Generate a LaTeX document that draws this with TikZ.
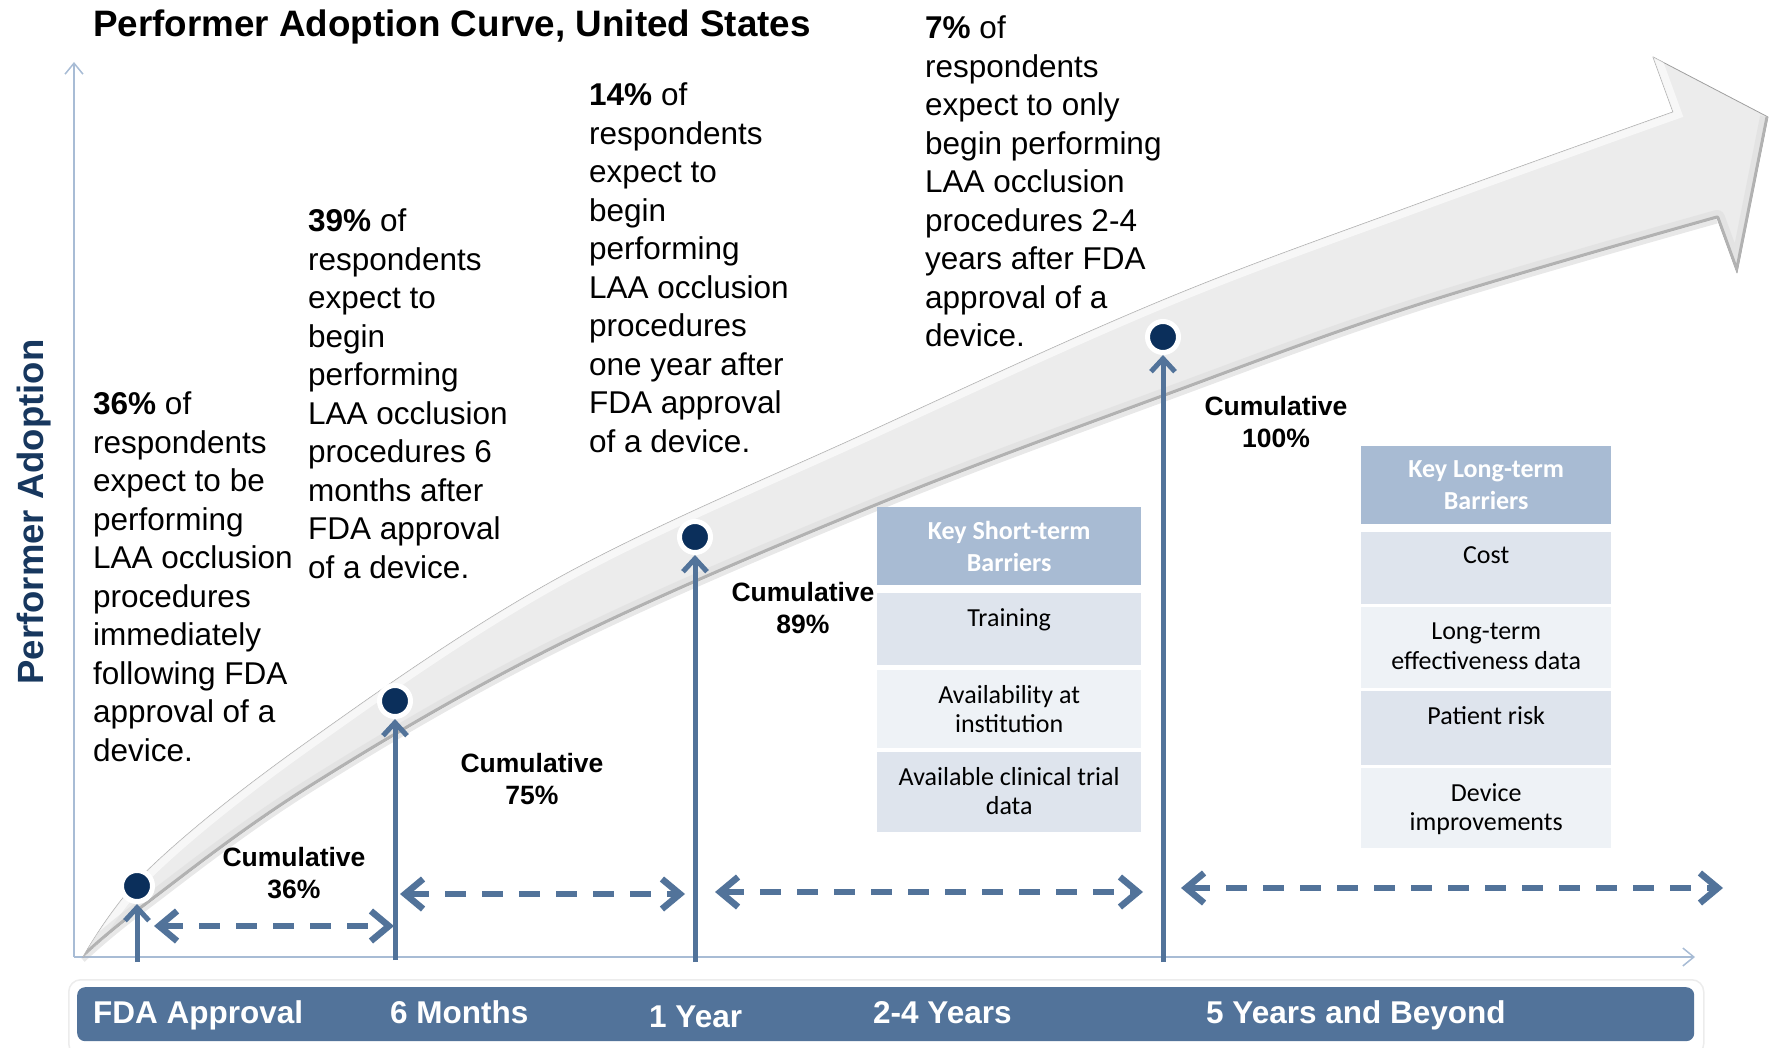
\documentclass[tikz,border=0pt]{standalone}
\usepackage{fontspec}
\setmainfont{Liberation Sans}
\newfontfamily\tablefont{Carlito}
\usetikzlibrary{arrows.meta}
\definecolor{steel}{HTML}{52739A}
\definecolor{navy}{HTML}{0B2F5B}
\definecolor{axisblue}{HTML}{A8BCD5}
\definecolor{hdrblue}{HTML}{A8BBD3}
\definecolor{rowdark}{HTML}{DEE4ED}
\definecolor{rowlight}{HTML}{EEF2F6}
\definecolor{ylabcol}{HTML}{17375E}
\definecolor{bandfill}{HTML}{ECECEC}
\begin{document}
\begin{tikzpicture}[x=1pt,y=-1pt,
  body/.style={anchor=north west, inner sep=0, align=left, font=\fontsize{31.5}{38.5}\selectfont},
  cumul/.style={align=center, inner sep=0, font=\bfseries\fontsize{26.5}{32}\selectfont},
  ticklabel/.style={anchor=base west, inner sep=0, text=white, font=\bfseries\fontsize{31.5}{38}\selectfont},
  dot/.style={circle, fill=navy, draw=white, line width=5pt, minimum size=31pt, inner sep=0},
  riser/.style={draw=steel, line width=5pt, -{Straight Barb[length=13pt,width=24pt]}},
  span/.style={draw=steel, line width=6.5pt, dash pattern=on 21pt off 16pt,
    {Straight Barb[length=18pt,width=30pt]}-{Straight Barb[length=18pt,width=30pt]}},
  axisline/.style={draw=axisblue, line width=1.5pt, -{Straight Barb[length=11pt,width=18pt]}},
  hdr/.style={rectangle, fill=hdrblue, inner sep=0, anchor=north west, align=center,
    text=white, font=\tablefont\bfseries\fontsize{26}{32}\selectfont},
  cell/.style={rectangle, inner sep=0, anchor=north west},
  celltext/.style={anchor=north, inner sep=0, align=center, font=\tablefont\fontsize{26}{29.5}\selectfont},
]
\useasboundingbox (0,0) rectangle (1775,1048);

% axes
\coordinate (origin) at (74,957);
\coordinate (ytop) at (74,62);
\coordinate (xend) at (1695,957);
\draw[axisline] (origin) -- (ytop);
\draw[axisline] (origin) -- (xend);

% soft shadow under the lower edge of the curved arrow
\draw[gray!60, line width=5pt, opacity=.3, yshift=-3pt, line join=round]
  plot[smooth, tension=0.6] coordinates {(1717,218) (1420,305) (1173,393) (873,507) (560,645) (310,787) (143,907) (83,957)};

% curved arrow body
\path[fill=bandfill, draw=gray!75, line width=0.8pt, line join=round]
  plot[smooth, tension=0.6] coordinates {(83,957) (150,868) (310,740) (560,577) (873,430) (1163,300) (1420,203) (1673,112)}
  -- (1653,57) -- (1768,117) -- (1737,273) -- (1717,218)
  -- plot[smooth, tension=0.6] coordinates {(1717,218) (1420,305) (1173,393) (873,507) (560,645) (310,787) (143,907) (83,957)}
  -- cycle;
\begin{scope}
  \clip plot[smooth, tension=0.6] coordinates {(83,957) (150,868) (310,740) (560,577) (873,430) (1163,300) (1420,203) (1673,112)}
  -- (1653,57) -- (1768,117) -- (1737,273) -- (1717,218)
  -- plot[smooth, tension=0.6] coordinates {(1717,218) (1420,305) (1173,393) (873,507) (560,645) (310,787) (143,907) (83,957)}
  -- cycle;
  \draw[white, line width=16pt, opacity=.6]
    plot[smooth, tension=0.6] coordinates {(83,957) (150,868) (310,740) (560,577) (873,430) (1163,300) (1420,203) (1673,112)} -- (1653,57);
  \draw[gray!30, line width=16pt, opacity=.45, line join=round]
    (1768,117) -- (1737,273) -- (1717,218)
    -- plot[smooth, tension=0.6] coordinates {(1717,218) (1420,305) (1173,393) (873,507) (560,645) (310,787) (143,907) (83,957)};
  \draw[gray!60, line width=5pt, line join=round]
    (1768,117) -- (1737,273) -- (1717,218)
    -- plot[smooth, tension=0.6] coordinates {(1717,218) (1420,305) (1173,393) (873,507) (560,645) (310,787) (143,907) (83,957)};
\end{scope}

% title and axis label
\node[anchor=base west, inner sep=0, font=\bfseries\fontsize{36.8}{40}\selectfont] (title) at (93,37)
  {Performer Adoption Curve, United States};
\node[rotate=90, anchor=base, inner sep=0, text=ylabcol, font=\bfseries\fontsize{36.5}{40}\selectfont] (ylab) at (43,512)
  {Performer Adoption};

% milestone dots
\node[dot] (dot1) at (137,886) {};
\node[dot] (dot2) at (395,701) {};
\node[dot] (dot3) at (695,537) {};
\node[dot] (dot4) at (1163,337) {};

% risers from the time axis
\coordinate (base1) at (137,962);
\coordinate (base2) at (395,960);
\coordinate (base3) at (695,962);
\coordinate (base4) at (1163,962);
\draw[riser] (base1) -- (dot1);
\draw[riser] (base2) -- (dot2);
\draw[riser] (base3) -- (dot3);
\draw[riser] (base4) -- (dot4);

% period spans
\coordinate (s1a) at (154,926); \coordinate (s1b) at (394,926);
\coordinate (s2a) at (400,894); \coordinate (s2b) at (685,894);
\coordinate (s3a) at (715,892); \coordinate (s3b) at (1143,892);
\coordinate (s4a) at (1181,888); \coordinate (s4b) at (1723,888);
\draw[span] (s1a) -- (s1b);
\draw[span] (s2a) -- (s2b);
\draw[span] (s3a) -- (s3b);
\draw[span] (s4a) -- (s4b);

% cumulative labels
\node[cumul] (c1) at (294,873) {Cumulative\\36\%};
\node[cumul] (c2) at (532,779) {Cumulative\\75\%};
\node[cumul] (c3) at (803,608) {Cumulative\\89\%};
\node[cumul] (c4) at (1276,422) {Cumulative\\100\%};

% survey statements
\node[body] (t1) at (93,392) {\textbf{36\%} of\\respondents\\expect to be\\performing\\LAA occlusion\\procedures\\immediately\\following FDA\\approval of a\\device.};
\node[body] (t2) at (308,209) {\textbf{39\%} of\\respondents\\expect to\\begin\\performing\\LAA occlusion\\procedures 6\\months after\\FDA approval\\of a device.};
\node[body] (t3) at (589,83) {\textbf{14\%} of\\respondents\\expect to\\begin\\performing\\LAA occlusion\\procedures\\one year after\\FDA approval\\of a device.};
\node[body] (t4) at (925,16) {\textbf{7\%} of\\respondents\\expect to only\\begin performing\\LAA occlusion\\procedures 2-4\\years after FDA\\approval of a\\device.};

% short-term barriers table
\node[hdr, minimum width=264pt, minimum height=78pt] (sh) at (877,507) {Key Short-term\\Barriers};
\node[cell, fill=rowdark, minimum width=264pt, minimum height=72pt] (sr1) at (877,593) {};
\node[cell, fill=rowlight, minimum width=264pt, minimum height=78pt] (sr2) at (877,670) {};
\node[cell, fill=rowdark, minimum width=264pt, minimum height=80pt] (sr3) at (877,752) {};
\node[celltext] at ([yshift=-15pt]sr1.north) {Training};
\node[celltext] at ([yshift=-15pt]sr2.north) {Availability at\\institution};
\node[celltext] at ([yshift=-15pt]sr3.north) {Available clinical trial\\data};

% long-term barriers table
\node[hdr, minimum width=250pt, minimum height=78pt] (lh) at (1361,446) {Key Long-term\\Barriers};
\node[cell, fill=rowdark, minimum width=250pt, minimum height=72pt] (lr1) at (1361,532) {};
\node[cell, fill=rowlight, minimum width=250pt, minimum height=81pt] (lr2) at (1361,607) {};
\node[cell, fill=rowdark, minimum width=250pt, minimum height=74pt] (lr3) at (1361,691) {};
\node[cell, fill=rowlight, minimum width=250pt, minimum height=80pt] (lr4) at (1361,768) {};
\node[celltext] at ([yshift=-14pt]lr1.north) {Cost};
\node[celltext] at ([yshift=-16pt]lr2.north) {Long-term\\effectiveness data};
\node[celltext] at ([yshift=-15pt]lr3.north) {Patient risk};
\node[celltext] at ([yshift=-15pt]lr4.north) {Device\\improvements};

% time bar
\node[rectangle, rounded corners=12pt, fill=white, draw=gray!15, line width=1.5pt, anchor=north west,
  minimum width=1635pt, minimum height=76pt, inner sep=0] (frame) at (68,979) {};
\node[rectangle, rounded corners=8pt, fill=steel, anchor=north west,
  minimum width=1617pt, minimum height=54pt, inner sep=0] (bar) at (77,987) {};
\node[ticklabel] (l1) at (93,1023) {FDA Approval};
\node[ticklabel] (l2) at (390,1023) {6 Months};
\node[ticklabel] (l3) at (649,1027) {1 Year};
\node[ticklabel] (l4) at (873,1023) {2-4 Years};
\node[ticklabel] (l5) at (1206,1023) {5 Years and Beyond};
\end{tikzpicture}
\end{document}
